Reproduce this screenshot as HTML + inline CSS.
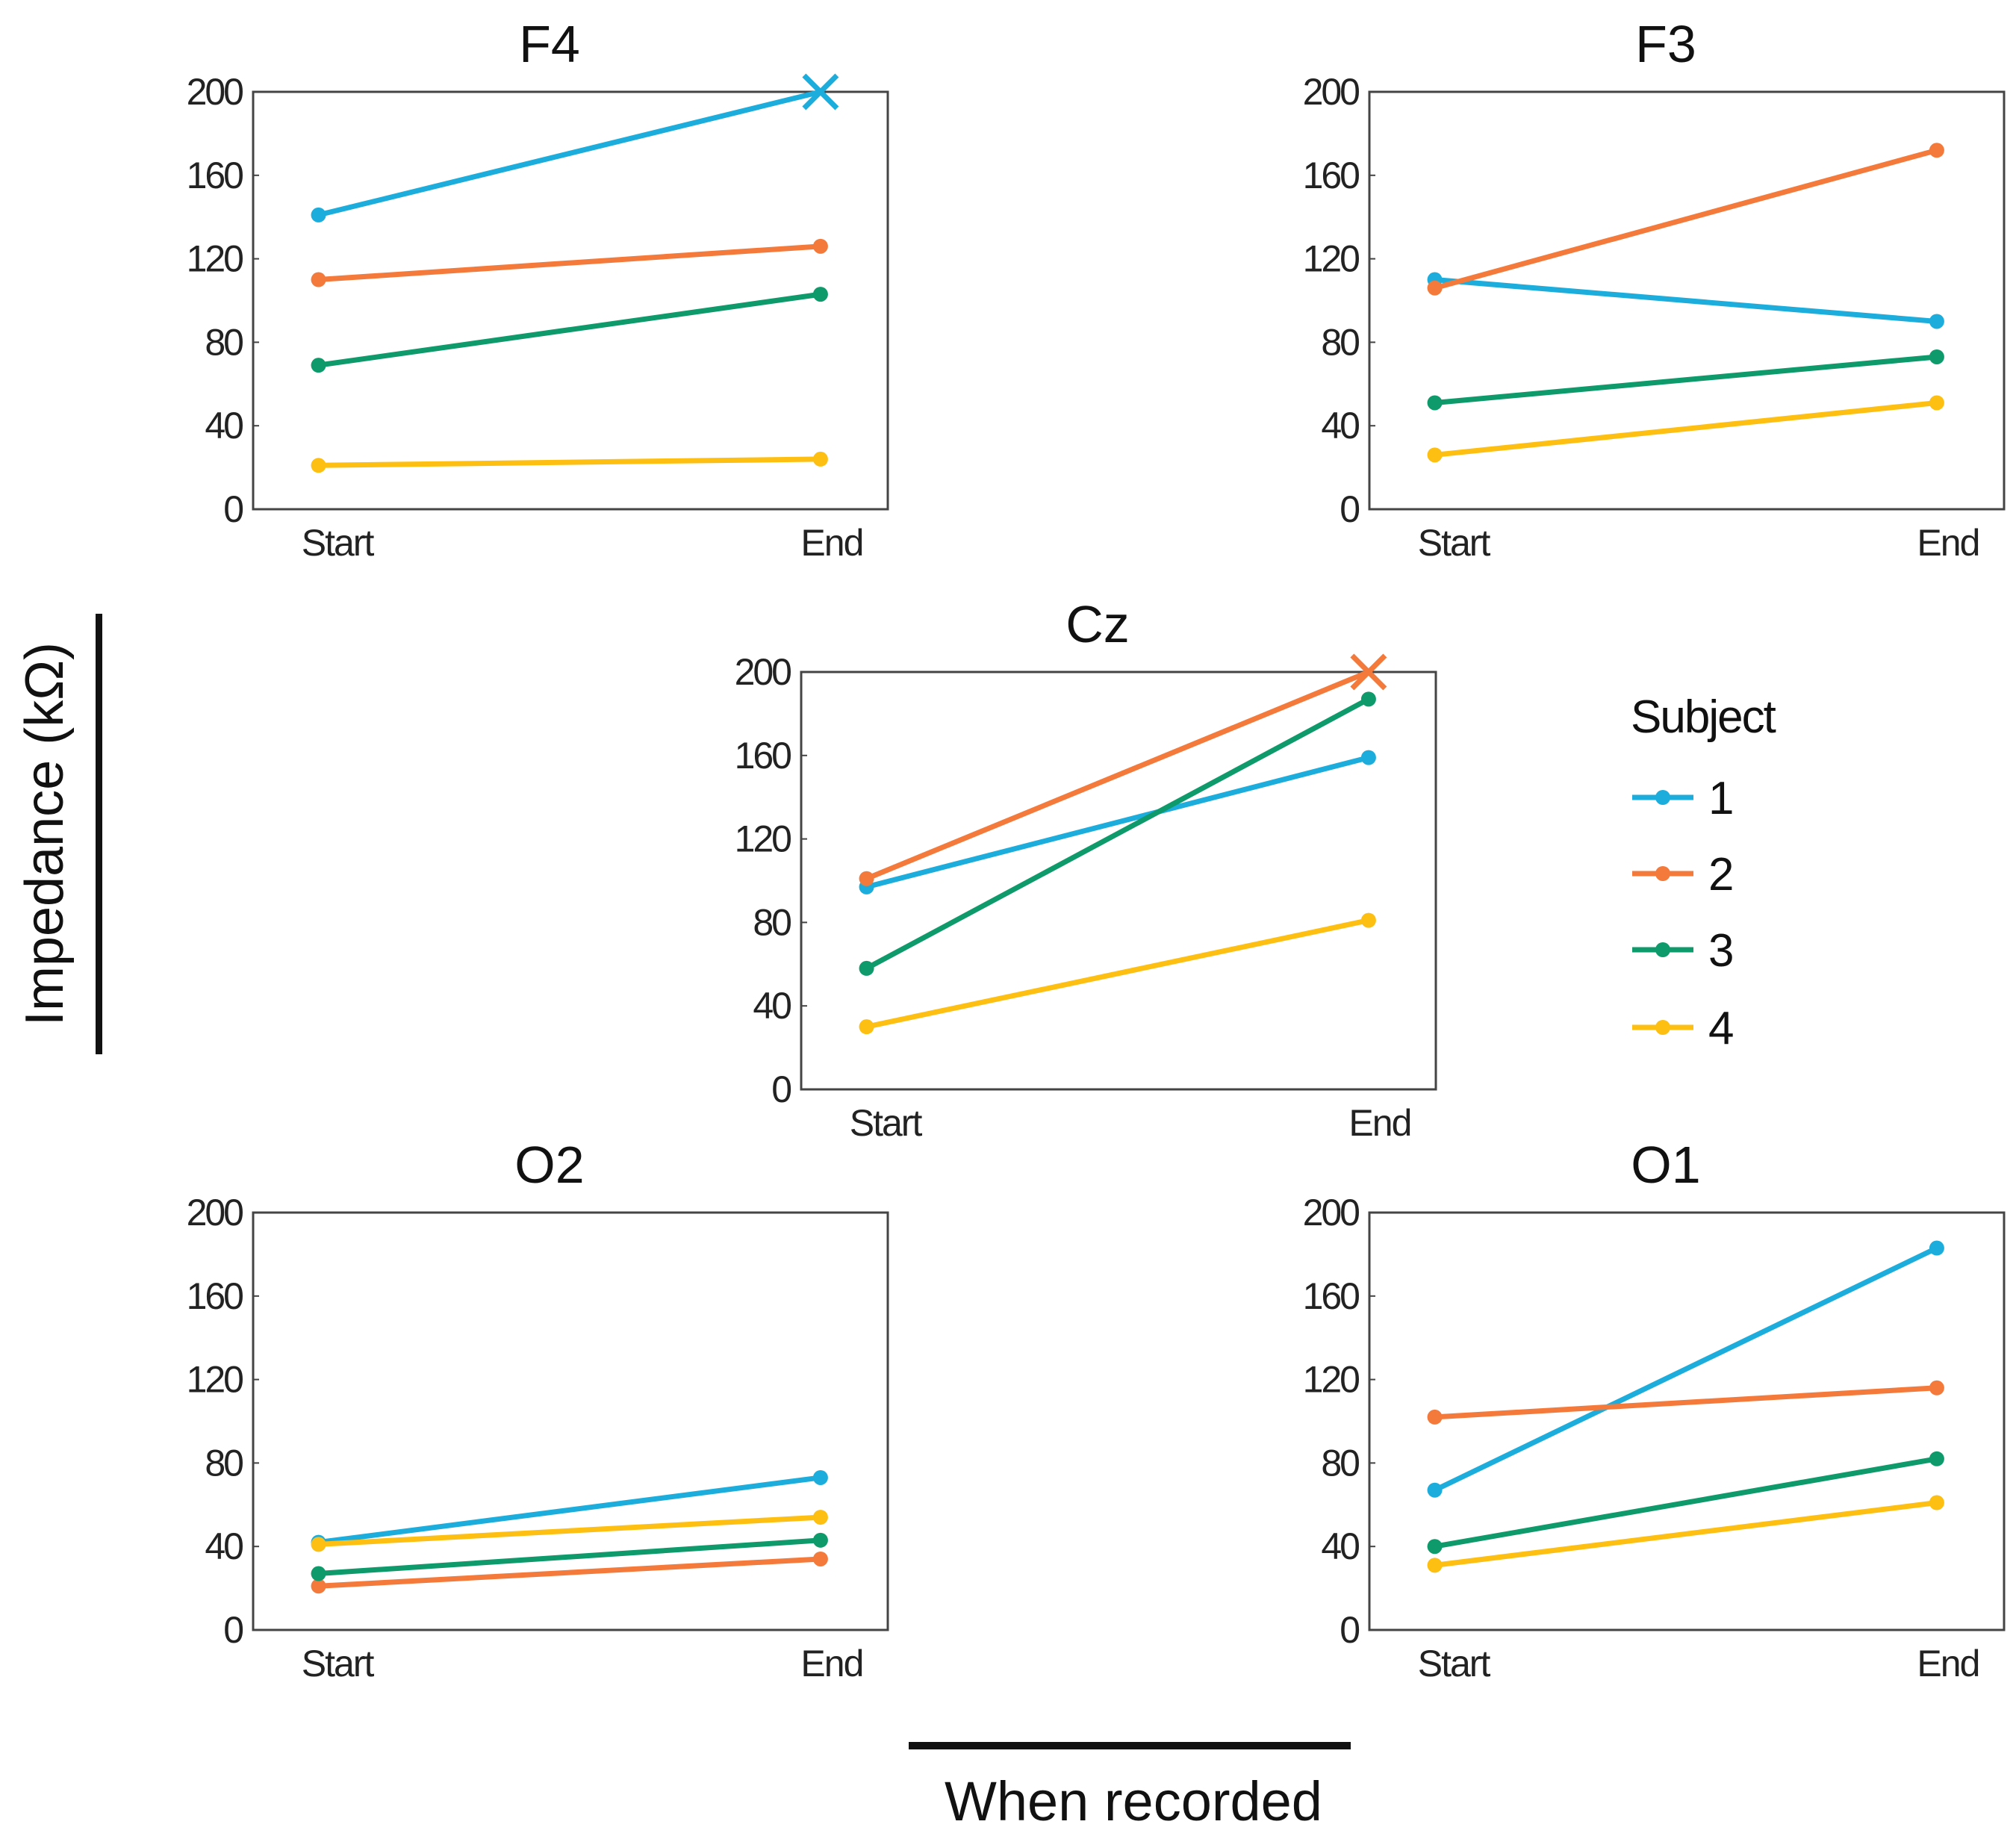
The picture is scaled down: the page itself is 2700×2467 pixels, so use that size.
<!DOCTYPE html>
<html><head><meta charset="utf-8"><style>
html,body{margin:0;padding:0;background:#fff}
svg{display:block;font-family:"Liberation Sans",Arial,sans-serif}
</style></head><body>
<svg id="fig" width="2700" height="2467" viewBox="0 0 2700 2467">
<g id="root"></g>
</svg>
<script>
const panelNames = ["F4","F3","Cz","O2","O1"];
const subjects = ["1","2","3","4"];
const colors = ["#1DADDC","#F47A3C","#0E9A6B","#FDBF12"];
const yTicks = [0,40,80,120,160,200];
const xCats = ["Start","End"];
const f4Values = [[141,200],[110,126],[69,103],[21,24]];
const f3Values = [[110,90],[106,172],[51,73],[26,51]];
const czValues = [[97,159],[101,200],[58,187],[30,81]];
const o2Values = [[42,73],[21,34],[27,43],[41,54]];
const o1Values = [[67,183],[102,116],[40,82],[31,61]];
const f4Caps = [[false,true],[false,false],[false,false],[false,false]];
const f3Caps = [[false,false],[false,false],[false,false],[false,false]];
const czCaps = [[false,false],[false,true],[false,false],[false,false]];
const o2Caps = [[false,false],[false,false],[false,false],[false,false]];
const o1Caps = [[false,false],[false,false],[false,false],[false,false]];

const NS="http://www.w3.org/2000/svg";
const root=document.getElementById('root');
function mk(tag,attrs,parent){const e=document.createElementNS(NS,tag);for(const k in attrs)e.setAttribute(k,attrs[k]);(parent||root).appendChild(e);return e;}

const layouts=[[339,123],[1834,123],[1073,900],[339,1624],[1834,1624]];
const W=850,H=559;
const allVals=[f4Values,f3Values,czValues,o2Values,o1Values];
const allCaps=[f4Caps,f3Caps,czCaps,o2Caps,o1Caps];

panelNames.forEach((name,pi)=>{
  const [L,T]=layouts[pi];
  const g=mk('g',{});
  
  
  const yS=v=>T+H-(v/200)*H;
  const xS=i=>L+W*(i===0?0.103:0.894);
  const t=mk('text',{x:L+W/2-28,y:T-40,'font-size':70,'text-anchor':'middle',fill:'#111'},g);
  t.textContent=name;
  
  
  const box=mk('rect',{x:L,y:T,width:W,height:H,fill:'none',stroke:'#444','stroke-width':3},g);
  
  
  yTicks.forEach(v=>{
    const tl=mk('text',{x:L-15,y:yS(v)+17,'font-size':50,'text-anchor':'end',fill:'#222','letter-spacing':'-3'},g);
    tl.textContent=v;
    
    
    mk('line',{x1:L,x2:L+8,y1:yS(v),y2:yS(v),stroke:'#444','stroke-width':2},g);
  });
  xCats.forEach((c,i)=>{
    const xl=mk('text',{x:xS(i)+(i===0?25:15),y:T+H+62,'font-size':50,'text-anchor':'middle',fill:'#222','letter-spacing':'-2'},g);
    xl.textContent=c;
    
    
  });
  const vals=allVals[pi],caps=allCaps[pi];
  vals.forEach((sv,si)=>{
    const sg=mk('g',{},g);
    
    
    const ln=mk('line',{x1:xS(0),y1:yS(sv[0]),x2:xS(1),y2:yS(sv[1]),stroke:colors[si],'stroke-width':7},sg);
    
    
    sv.forEach((v,i)=>{
      const cx=xS(i),cy=yS(v);
      if(caps[si][i]){
        const m=mk('path',{d:`M${cx-22} ${cy-22}L${cx+22} ${cy+22}M${cx-22} ${cy+22}L${cx+22} ${cy-22}`,stroke:colors[si],'stroke-width':7,fill:'none'},sg);
        
        
      } else {
        const c=mk('circle',{cx:cx,cy:cy,r:10,fill:colors[si]},sg);
        
        
      }
    });
  });
});

const lg=mk('g',{});


const lt=mk('text',{x:2184,y:981,'font-size':62,fill:'#111','letter-spacing':'-2'},lg);
lt.textContent='Subject';


const legY=[1068,1170,1272,1376];
subjects.forEach((s,i)=>{
  const e=mk('g',{},lg);
  
  
  mk('line',{x1:2186,x2:2268,y1:legY[i],y2:legY[i],stroke:colors[i],'stroke-width':7},e);
  mk('circle',{cx:2227,cy:legY[i],r:10,fill:colors[i]},e);
  const tx=mk('text',{x:2288,y:legY[i]+22,'font-size':62,fill:'#111'},e);
  tx.textContent=s;
});

const yt=mk('text',{x:0,y:0,'font-size':72,'text-anchor':'middle',fill:'#111',transform:'translate(84,1117) rotate(-90)'});
yt.textContent='Impedance (kΩ)';


const yb=mk('rect',{x:128,y:822,width:9,height:590,fill:'#111'});


const xt=mk('text',{x:1518,y:2450-12,'font-size':74,'text-anchor':'middle',fill:'#111'});
xt.textContent='When recorded';


const xb=mk('rect',{x:1217,y:2333,width:592,height:10,fill:'#111'});


</script>
</body></html>
